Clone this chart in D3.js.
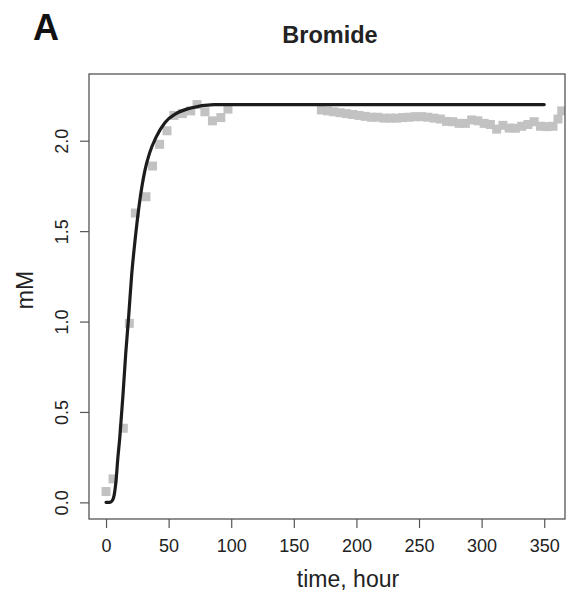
<!DOCTYPE html>
<html>
<head>
<meta charset="utf-8">
<script src="https://cdn.jsdelivr.net/npm/d3@7"></script>
<style>
  body { margin: 0; background: #fff; }
  svg { display: block; font-family: "Liberation Sans", Arial, sans-serif; }
</style>
</head>
<body>
<svg id="chart" width="566" height="591"></svg>
<script>
// observed bromide (grey squares)
var obsTime = [0, 5.6, 13.8, 18.6, 23.4, 31.9, 37.1, 42.8, 48.7, 54.2, 61, 67.7, 72.7, 79, 85, 91.7, 97.4,
  172, 177, 182, 187, 192, 197, 202, 207, 212, 217, 222, 227, 232, 237, 242, 247, 252, 257, 262, 267,
  272, 277, 282, 287, 292, 297, 302, 307, 312, 317, 322, 327, 332, 337, 342, 347, 352, 357, 361, 364];
var obsConc = [0.06, 0.13, 0.41, 0.99, 1.60, 1.69, 1.86, 1.98, 2.055, 2.14, 2.15, 2.165, 2.20, 2.16, 2.11, 2.128, 2.175,
  2.17, 2.165, 2.16, 2.155, 2.15, 2.145, 2.14, 2.135, 2.13, 2.13, 2.125, 2.125, 2.125, 2.128, 2.13, 2.133, 2.133, 2.13, 2.125, 2.12,
  2.107, 2.105, 2.096, 2.096, 2.115, 2.11, 2.096, 2.09, 2.064, 2.085, 2.07, 2.069, 2.08, 2.09, 2.105, 2.08, 2.078, 2.08, 2.12, 2.165];

// fitted curve (black line)
var fitTime = [0, 3, 5, 6.5, 8, 9.5, 11, 12.2, 13.6, 15.7, 18.1, 20.5, 23.2, 26.6, 31.2, 34.7, 40, 47, 56, 67, 86, 120, 350];
var fitConc = [0, 0, 0.01, 0.04, 0.12, 0.25, 0.36, 0.47, 0.6, 0.82, 1.03, 1.26, 1.45, 1.65, 1.84, 1.93, 2.02, 2.10, 2.15, 2.18, 2.2, 2.2, 2.2];

var xTicks = [0, 50, 100, 150, 200, 250, 300, 350];
var yTicks = [0, 0.5, 1.0, 1.5, 2.0];

var svg = d3.select("#chart");
var plotL = 89, plotR = 565, plotT = 74, plotB = 519;

var x = d3.scaleLinear().domain([-13.6, 366.6]).range([plotL, plotR]);
var y = d3.scaleLinear().domain([-0.092, 2.369]).range([plotB, plotT]);

svg.append("defs").append("clipPath").attr("id", "plotclip")
  .append("rect").attr("x", plotL).attr("y", plotT)
  .attr("width", plotR - plotL).attr("height", plotB - plotT);

// points
var obs = obsTime.map(function (t, i) { return { t: t, c: obsConc[i] }; });
var sq = 9;
svg.append("g").attr("clip-path", "url(#plotclip)")
  .selectAll("rect").data(obs).enter().append("rect")
  .attr("x", function (d) { return x(d.t) - sq / 2; })
  .attr("y", function (d) { return y(d.c) - sq / 2; })
  .attr("width", sq).attr("height", sq)
  .attr("fill", "#c2c2c2");

// fitted line
var fit = fitTime.map(function (t, i) { return { t: t, c: fitConc[i] }; });
svg.append("path").datum(fit)
  .attr("clip-path", "url(#plotclip)")
  .attr("fill", "none").attr("stroke", "#1c1c1c").attr("stroke-width", 3.2)
  .attr("stroke-linejoin", "round").attr("stroke-linecap", "round")
  .attr("d", d3.line().x(function (d) { return x(d.t); }).y(function (d) { return y(d.c); })
    .curve(d3.curveMonotoneX));

// box
svg.append("rect").attr("x", plotL).attr("y", plotT)
  .attr("width", plotR - plotL).attr("height", plotB - plotT)
  .attr("fill", "none").attr("stroke", "#555").attr("stroke-width", 1.3);

// x axis
var gx = svg.append("g").attr("transform", "translate(0," + plotB + ")")
  .call(d3.axisBottom(x).tickValues(xTicks).tickSize(9).tickFormat(d3.format("d")));
gx.select(".domain").remove();
gx.selectAll(".tick line").attr("stroke", "#555").attr("stroke-width", 1.2);
gx.selectAll(".tick text").attr("y", 33).attr("dy", null)
  .attr("font-size", 18).attr("fill", "#222")
  .attr("font-family", "Liberation Sans, Arial, sans-serif");

// y axis
var gy = svg.append("g").attr("transform", "translate(" + plotL + ",0)")
  .call(d3.axisLeft(y).tickValues(yTicks).tickSize(9).tickFormat(d3.format(".1f")));
gy.select(".domain").remove();
gy.selectAll(".tick line").attr("stroke", "#555").attr("stroke-width", 1.2);
gy.selectAll(".tick text").attr("x", null).attr("dy", null)
  .attr("transform", "translate(-21,0) rotate(-90)")
  .attr("text-anchor", "middle")
  .attr("font-size", 18).attr("fill", "#222")
  .attr("font-family", "Liberation Sans, Arial, sans-serif");

// labels
svg.append("text").attr("x", 348).attr("y", 587)
  .attr("text-anchor", "middle").attr("font-size", 23).attr("fill", "#222")
  .text("time, hour");

svg.append("text").attr("transform", "translate(33,290) rotate(-90)")
  .attr("text-anchor", "middle").attr("font-size", 23).attr("fill", "#222")
  .text("mM");

svg.append("text").attr("x", 330).attr("y", 43)
  .attr("text-anchor", "middle").attr("font-size", 23.5).attr("font-weight", "bold").attr("fill", "#222")
  .text("Bromide");

svg.append("text").attr("x", 33).attr("y", 40)
  .attr("font-size", 36).attr("font-weight", "bold").attr("fill", "#111")
  .text("A");
</script>
</body>
</html>
